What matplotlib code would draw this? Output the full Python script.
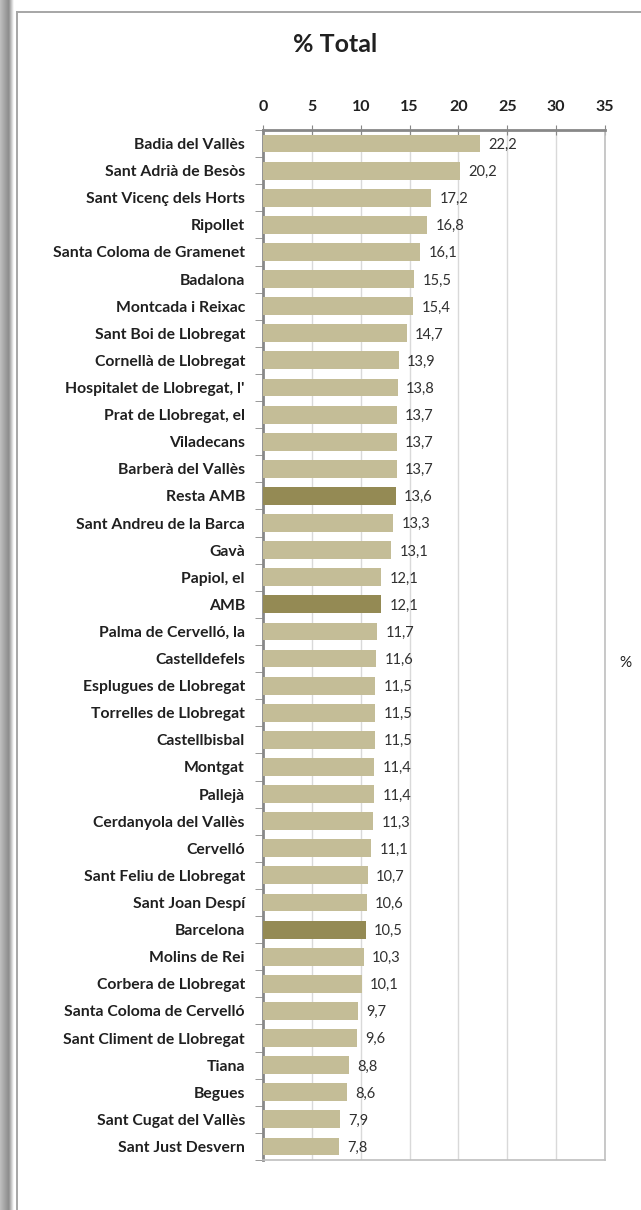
import matplotlib.pyplot as plt
import numpy as np
from matplotlib.lines import Line2D

plt.rcParams['font.family'] = ['Lato', 'DejaVu Sans']

municipis = [
    "Badia del Vallès", "Sant Adrià de Besòs", "Sant Vicenç dels Horts", "Ripollet",
    "Santa Coloma de Gramenet", "Badalona", "Montcada i Reixac", "Sant Boi de Llobregat",
    "Cornellà de Llobregat", "Hospitalet de Llobregat, l'", "Prat de Llobregat, el",
    "Viladecans", "Barberà del Vallès", "Resta AMB", "Sant Andreu de la Barca", "Gavà",
    "Papiol, el", "AMB", "Palma de Cervelló, la", "Castelldefels", "Esplugues de Llobregat",
    "Torrelles de Llobregat", "Castellbisbal", "Montgat", "Pallejà", "Cerdanyola del Vallès",
    "Cervelló", "Sant Feliu de Llobregat", "Sant Joan Despí", "Barcelona", "Molins de Rei",
    "Corbera de Llobregat", "Santa Coloma de Cervelló", "Sant Climent de Llobregat",
    "Tiana", "Begues", "Sant Cugat del Vallès", "Sant Just Desvern",
]
pct_total = [
    22.2, 20.2, 17.2, 16.8, 16.1, 15.5, 15.4, 14.7, 13.9, 13.8, 13.7, 13.7, 13.7, 13.6,
    13.3, 13.1, 12.1, 12.1, 11.7, 11.6, 11.5, 11.5, 11.5, 11.4, 11.4, 11.3, 11.1, 10.7,
    10.6, 10.5, 10.3, 10.1, 9.7, 9.6, 8.8, 8.6, 7.9, 7.8,
]
agregats = ["Resta AMB", "AMB", "Barcelona"]
x_ticks = [0, 5, 10, 15, 20, 25, 30, 35]

LIGHT = "#C4BD97"
DARK = "#948A54"

W, H = 641, 1210
fig = plt.figure(figsize=(W / 100, H / 100), dpi=100)

# shadow on the left edge
sh = fig.add_axes([0, 0, 14 / W, 1])
grad = np.concatenate([np.linspace(0.75, 0.55, 40), np.linspace(0.55, 1.0, 24)])[None, :]
sh.imshow(grad, cmap="gray", vmin=0, vmax=1, aspect="auto", extent=[0, 1, 0, 1])
sh.axis("off")

# chart frame
fx0, fy0 = 17 / W, 1 - 12 / H
fig.add_artist(Line2D([fx0, fx0], [0, fy0], transform=fig.transFigure, color="#A6A6A6", lw=1.4))
fig.add_artist(Line2D([fx0, 1], [fy0, fy0], transform=fig.transFigure, color="#A6A6A6", lw=1.4))

left, right = 263 / W, 605 / W
top, bottom = 1 - 130 / H, 1 - 1160 / H
ax = fig.add_axes([left, bottom, right - left, top - bottom])

n = len(municipis)
y = np.arange(n)
colors = [DARK if m in agregats else LIGHT for m in municipis]
ax.barh(y, pct_total, height=0.66, color=colors, zorder=3)
for yi, v in zip(y, pct_total):
    ax.text(v + 0.85, yi + 0.05, f"{v:.1f}".replace(".", ","), va="center", ha="left",
            fontsize=10.5, color="#303030")

ax.set_xlim(0, 35)
ax.set_ylim(n - 0.5, -0.5)
ax.set_xticks(x_ticks)
ax.xaxis.tick_top()
ax.tick_params(axis="x", which="major", direction="inout", length=7, color="#888888",
               labelsize=11.5, pad=8, labelcolor="#202020")
for t in ax.get_xticklabels():
    t.set_fontweight("bold")
ax.set_yticks(y)
ax.set_yticklabels(municipis, fontsize=11.3, fontweight="bold", color="#202020")
ax.tick_params(axis="y", which="major", length=0, pad=13)
ax.set_yticks(np.arange(-0.5, n, 1), minor=True)
ax.tick_params(axis="y", which="minor", length=6, color="#888888", direction="out")

ax.grid(axis="x", color="#D9D9D9", lw=1, zorder=0)
for side, col, lw in [("top", "#888888", 2.0), ("left", "#888888", 2.0),
                      ("right", "#BFBFBF", 1.2), ("bottom", "#BFBFBF", 1.2)]:
    ax.spines[side].set_color(col)
    ax.spines[side].set_linewidth(lw)

fig.text(335 / W, 1 - 45 / H, "% Total", ha="center", va="center", fontsize=18,
         fontweight="bold", color="#202020")
fig.text(625 / W, 1 - 663 / H, "%", ha="center", va="center", fontsize=11, color="#202020")

fig.savefig("out.png", dpi=100)
